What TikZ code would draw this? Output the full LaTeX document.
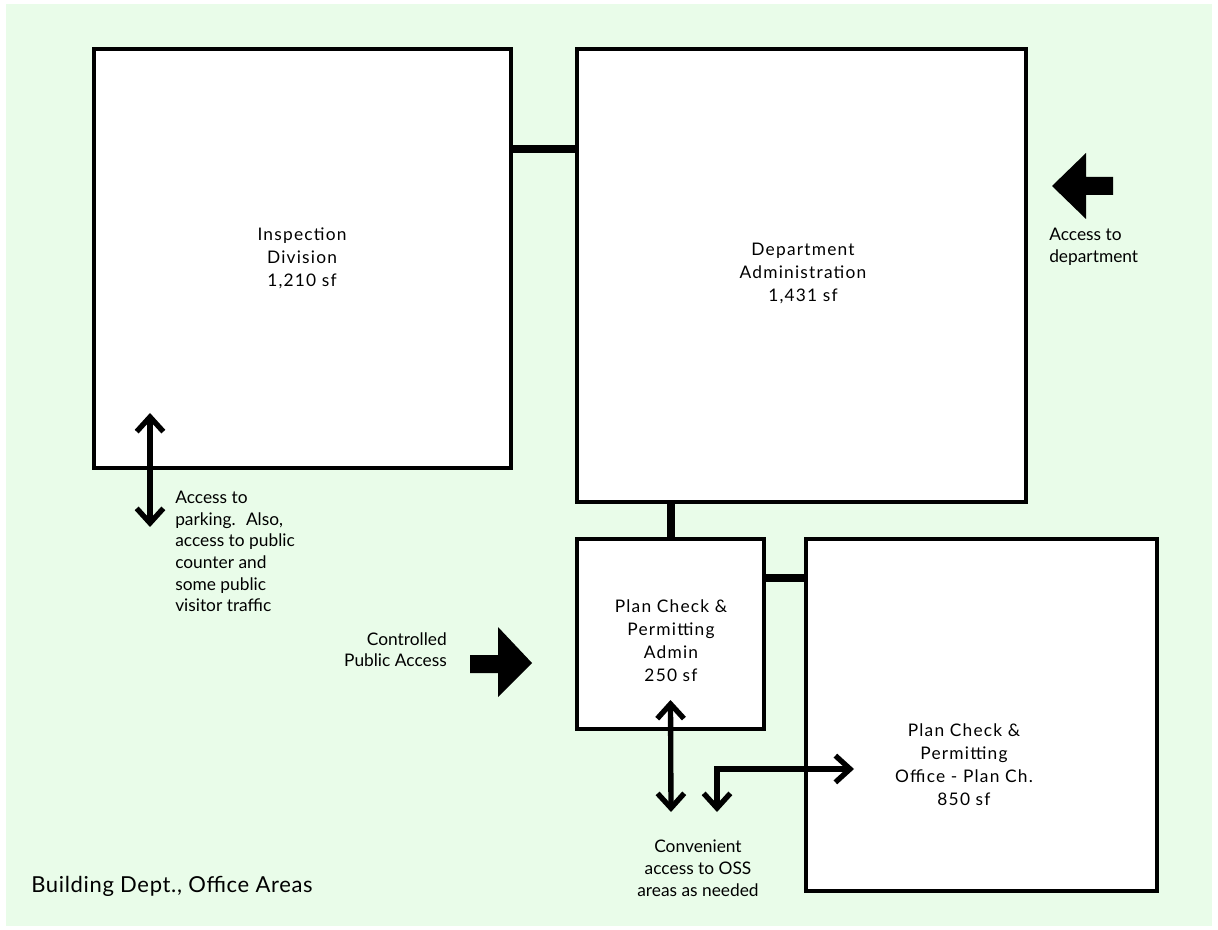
\documentclass[tikz,border=0pt]{standalone}
\usepackage{fontspec}
\setmainfont{Lato}
\newfontfamily\roomfont{Lato}[LetterSpace=7]
\newfontfamily\titlefont{Lato}[LetterSpace=3]
\usetikzlibrary{arrows.meta}
\definecolor{sitegreen}{RGB}{233,252,233}
\begin{document}
\begin{tikzpicture}[x=0.75pt,y=-0.75pt,
  room/.style={draw=black, line width=3pt, fill=white, inner sep=0pt, outer sep=0pt},
  link/.style={line width=6pt},
  flow/.style={line width=4pt, {Straight Barb[length=11pt,width=20pt]}-{Straight Barb[length=11pt,width=20pt]}},
  roomtext/.style={align=center, inner sep=0pt, font=\roomfont\fontsize{13}{17.25}\selectfont},
  note/.style={inner sep=0pt, font=\fontsize{13}{16.2}\selectfont}]
  \useasboundingbox (0,0) rectangle (1218,930);
  % backdrop
  \fill[sitegreen] (6,4) rectangle (1212,926);

  % rooms (corner to corner, in px)
  \node[room, anchor=north west, minimum width=312.4pt, minimum height=314.25pt] (insp) at (94,49) {};
  \node[room, anchor=north west, minimum width=337.1pt, minimum height=339.75pt] (dept) at (577,49) {};
  \node[room, anchor=north west, minimum width=140.25pt, minimum height=142.5pt] (pca) at (577,539) {};
  \node[room, anchor=north west, minimum width=263.25pt, minimum height=264pt] (pco) at (806,539) {};

  % adjacencies
  \draw[link] ([yshift=-75pt]insp.north east) -- ([yshift=-75pt]dept.north west);
  \draw[link] (pca.north) -- (pca.north |- dept.south);
  \draw[link] ([yshift=-29.25pt]pca.north east) -- ([yshift=-29.25pt]pco.north west);

  % room labels
  \node[roomtext] (insplbl) at (302,258) {Inspection\\Division\\1,210 sf};
  \node[roomtext] (deptlbl) at (803,273) {Department\\Administration\\1,431 sf};
  \node[roomtext] (pcalbl) at (671,641) {Plan Check \&\\Permitting\\Admin\\250 sf};
  \node[roomtext] (pcolbl) at (964,765) {Plan Check \&\\Permitting\\Office - Plan Ch.\\850 sf};

  % entry arrows
  \fill[black] (1052,186) -- (1086,153) -- (1086,177) -- (1113,177) -- (1113,195)
    -- (1086,195) -- (1086,219) -- cycle;
  \fill[black] (532,663) -- (498,627) -- (498,655) -- (470,655) -- (470,673)
    -- (498,673) -- (498,697) -- cycle;

  % circulation
  \coordinate (pkA) at (150,413);
  \coordinate (pkB) at (150,527);
  \draw[flow] (pkA) -- (pkB);
  \coordinate (ossA) at (671,812);
  \draw[flow] (ossA) -- ([yshift=21.75pt]pca.south);
  \coordinate (ossB) at (717,812);
  \coordinate (ossC) at (854,769);
  \draw[flow] (ossB) |- (ossC);

  % notes
  \node[note, anchor=north west, align=left] (deptnote) at (1049,228) {Access to\\department};
  \node[note, anchor=north west, align=left] (parknote) at (175,491) {Access to\\parking.~ Also,\\access to public\\counter and\\some public\\visitor traffic};
  \node[note, anchor=north east, align=right] (pubnote) at (447,632) {Controlled\\Public Access};
  \node[note, anchor=north, align=center] (ossnote) at (698,840) {Convenient\\access to OSS\\areas as needed};
  \node[inner sep=0pt, anchor=base west, font=\titlefont\fontsize{16.5}{19}\selectfont] (title) at (31,892) {Building Dept., Office Areas};
\end{tikzpicture}
\end{document}
